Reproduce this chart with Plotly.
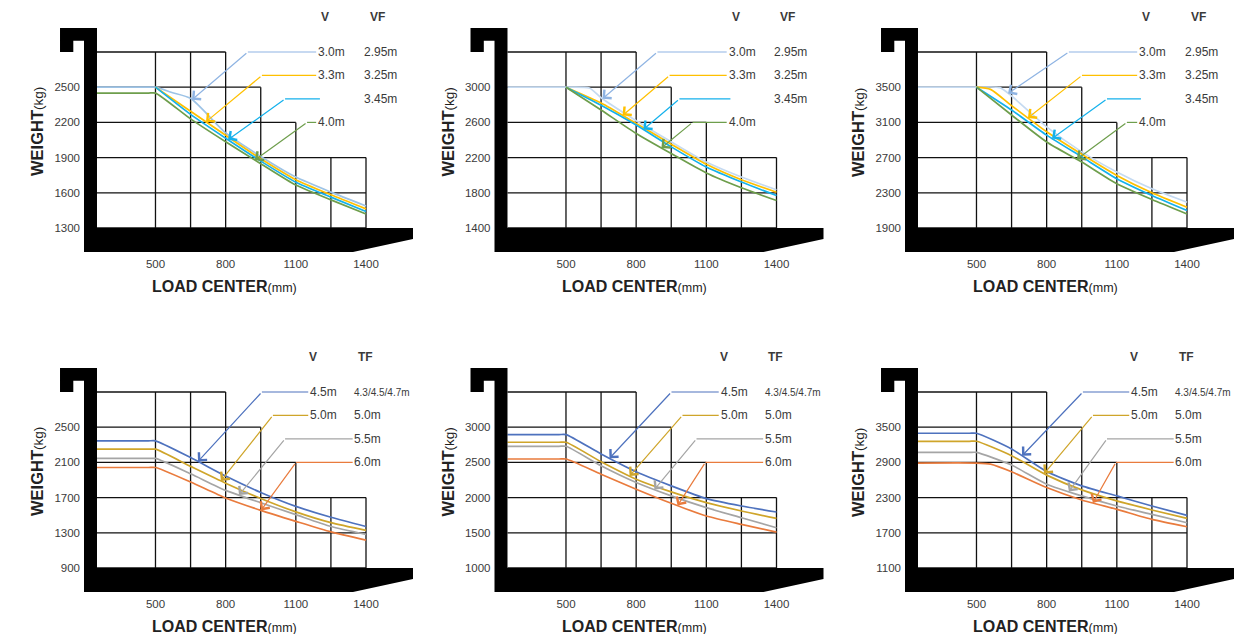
import numpy as np
import plotly.graph_objects as go

# page body has an 8px margin, so the figure is drawn 8px in from the window corner
OFF = 8
W, H = 1256 - 2 * OFF, 642 - 2 * OFF

# ---------------- data ----------------
x_tick_vals = [500, 800, 1100, 1400]
grid_cols = [500, 650, 800, 950, 1100, 1250, 1400]
grid_col_top = [5, 5, 5, 4, 3, 2, 2]      # steps each vertical grid line rises
x_start = 250

yt1 = [1300, 1600, 1900, 2200, 2500]
yt2 = [1400, 1800, 2200, 2600, 3000]
yt3 = [1900, 2300, 2700, 3100, 3500]
yt4 = [900, 1300, 1700, 2100, 2500]
yt5 = [1000, 1500, 2000, 2500, 3000]
yt6 = [1100, 1700, 2300, 2900, 3500]

# ---- top row (V / VF masts) ----
p1_v30_x = [250, 450, 500, 570, 650, 800, 950, 1100, 1250, 1400]
p1_v30_y = [2500, 2500, 2500, 2455, 2405, 2110, 1910, 1734, 1606, 1488]
p1_v33_x = [500, 650, 800, 950, 1100, 1250, 1400]
p1_v33_y = [2500, 2295, 2090, 1890, 1712, 1583, 1463]
p1_vf345_x = [500, 650, 800, 950, 1100, 1250, 1400]
p1_vf345_y = [2500, 2268, 2065, 1870, 1690, 1563, 1440]
p1_v40_x = [250, 470, 500, 650, 800, 950, 1100, 1250, 1400]
p1_v40_y = [2450, 2450, 2450, 2230, 2035, 1848, 1666, 1540, 1420]

p2_v30_x = [250, 450, 500, 600, 650, 800, 950, 1100, 1250, 1400]
p2_v30_y = [3000, 3000, 3000, 2990, 2880, 2619, 2379, 2150, 1979, 1834]
p2_v33_x = [500, 650, 800, 950, 1100, 1250, 1400]
p2_v33_y = [3000, 2820, 2589, 2352, 2124, 1948, 1807]
p2_vf345_x = [500, 650, 800, 950, 1100, 1250, 1400]
p2_vf345_y = [3000, 2795, 2570, 2322, 2093, 1922, 1769]
p2_v40_x = [500, 650, 800, 950, 1100, 1250, 1400]
p2_v40_y = [3000, 2741, 2474, 2246, 2025, 1857, 1712]

p3_v30_x = [250, 450, 500, 600, 650, 800, 950, 1100, 1250, 1400]
p3_v30_y = [3500, 3500, 3500, 3495, 3400, 3050, 2765, 2536, 2345, 2193]
p3_v33_x = [500, 560, 650, 800, 950, 1100, 1250, 1400]
p3_v33_y = [3500, 3475, 3290, 2993, 2738, 2498, 2300, 2136]
p3_vf345_x = [500, 650, 800, 950, 1100, 1250, 1400]
p3_vf345_y = [3500, 3241, 2955, 2708, 2460, 2269, 2098]
p3_v40_x = [500, 650, 800, 950, 1100, 1250, 1400]
p3_v40_y = [3500, 3184, 2878, 2650, 2403, 2224, 2060]

# ---- bottom row (V / TF masts) ----
bx = [250, 470, 500, 650, 800, 950, 1100, 1250, 1400]
p4_v45_y = [2345, 2345, 2345, 2155, 1945, 1758, 1600, 1477, 1372]
p4_v50_y = [2250, 2250, 2250, 2055, 1864, 1690, 1538, 1415, 1327]
p4_v55_y = [2145, 2145, 2145, 1970, 1782, 1641, 1506, 1372, 1283]
p4_v60_y = [2042, 2042, 2042, 1877, 1696, 1555, 1430, 1310, 1216]

p5_v45_y = [2895, 2895, 2895, 2619, 2367, 2167, 1986, 1881, 1795]
p5_v50_y = [2786, 2786, 2786, 2510, 2262, 2081, 1929, 1810, 1705]
p5_v55_y = [2729, 2729, 2729, 2452, 2214, 2024, 1857, 1714, 1571]
p5_v60_y = [2548, 2548, 2548, 2333, 2119, 1919, 1738, 1619, 1510]

p6_v45_y = [3397, 3397, 3397, 3129, 2745, 2500, 2329, 2157, 1997]
p6_v50_y = [3260, 3260, 3260, 3014, 2683, 2431, 2243, 2089, 1946]
p6_v55_y = [3071, 3071, 3071, 2854, 2529, 2329, 2157, 2014, 1871]
p6_v60_x = [250, 500, 560, 650, 800, 950, 1100, 1250, 1400]
p6_v60_y = [2889, 2889, 2870, 2740, 2471, 2260, 2100, 1929, 1803]

top_v_labels = ["3.0m", "3.3m", "", "4.0m"]
top_f_labels = ["2.95m", "3.25m", "3.45m", ""]
bot_v_labels = ["4.5m", "5.0m", "", ""]
bot_f_labels = ["4.3/4.5/4.7m", "5.0m", "5.5m", "6.0m"]

# ---------------- styling / layout ----------------
TOP_COLORS = ["#8FB4E3", "#FFC000", "#14B1EC", "#6E9E4C"]
BOT_COLORS = ["#4E72BE", "#CFA52A", "#A5A5A5", "#E97B3D"]
TXT = "#3a3a3a"
FONT = "Liberation Sans, Arial, sans-serif"

panels = [
    dict(yt=yt1, series=[(p1_v30_x, p1_v30_y), (p1_v33_x, p1_v33_y), (p1_vf345_x, p1_vf345_y), (p1_v40_x, p1_v40_y)],
         colors=["#9DC3E6", "#FFC000", "#14B1EC", "#6E9E4C"],
         bends=[895, 955, 1054, 1148], tips=[656, 716, 810, 925]),
    dict(yt=yt2, series=[(p2_v30_x, p2_v30_y), (p2_v33_x, p2_v33_y), (p2_vf345_x, p2_vf345_y), (p2_v40_x, p2_v40_y)],
         colors=["#C5DAF1", "#FFC000", "#14B1EC", "#6E9E4C"],
         bends=[891, 943, 985, 1041], tips=[656, 742, 831, 908]),
    dict(yt=yt3, series=[(p3_v30_x, p3_v30_y), (p3_v33_x, p3_v33_y), (p3_vf345_x, p3_vf345_y), (p3_v40_x, p3_v40_y)],
         colors=["#C5DAF1", "#FFC000", "#14B1EC", "#6E9E4C"],
         bends=[895, 951, 1058, 1143], tips=[635, 720, 823, 929]),
    dict(yt=yt4, series=[(bx, p4_v45_y), (bx, p4_v50_y), (bx, p4_v55_y), (bx, p4_v60_y)],
         colors=BOT_COLORS, bends=[955, 1002, 1054, 1101], tips=[682, 780, 857, 951]),
    dict(yt=yt5, series=[(bx, p5_v45_y), (bx, p5_v50_y), (bx, p5_v55_y), (bx, p5_v60_y)],
         colors=BOT_COLORS, bends=[951, 998, 1058, 1096], tips=[686, 772, 878, 977]),
    dict(yt=yt6, series=[(bx, p6_v45_y), (bx, p6_v50_y), (bx, p6_v55_y), (p6_v60_x, p6_v60_y)],
         colors=BOT_COLORS, bends=[955, 998, 1058, 1096], tips=[695, 789, 895, 998]),
]

# pixel geometry of one panel (window pixels)
PANEL_W, PANEL_H = 329, 224
COL_DX, ROW_DY = 410.5, 340
ORIGIN = (84, 28)
STEP_PX = 35.2
BAR_PX = 13            # x_start sits 13 px right of domain left
MM_PER_PX = (1400 - 250) / 269.0
LOW_PAD = 24 / STEP_PX
ROW_LEVELS = [5, 5 - 2 / 3, 5 - 4 / 3, 3]


def px_x(px):
    return (px - OFF) / W


def px_y(py):
    return 1 - (py - OFF) / H


fig = go.Figure()
layout_upd = {}
shapes = []
annotations = []

frame_px = [(-24, 0), (13, 0), (13, 200), (329, 200), (329, 211), (269, 224),
            (0, 224), (0, 12.7), (-10.7, 12.7), (-10.7, 24), (-24, 24)]

for i, P in enumerate(panels):
    row, col = divmod(i, 3)
    n = i + 1
    xa = "x" if n == 1 else f"x{n}"
    ya = "y" if n == 1 else f"y{n}"
    x0p = ORIGIN[0] + col * COL_DX
    y0p = ORIGIN[1] + row * ROW_DY
    yt = P["yt"]
    step = yt[1] - yt[0]
    levels = [yt[0] + k * step for k in range(6)]
    xr = [x_start - BAR_PX * MM_PER_PX, x_start + (PANEL_W - BAR_PX) * MM_PER_PX]
    yr = [yt[0] - LOW_PAD * step, levels[5] + LOW_PAD * step]

    ax_key = "xaxis" if n == 1 else f"xaxis{n}"
    ay_key = "yaxis" if n == 1 else f"yaxis{n}"
    layout_upd[ax_key] = dict(domain=[px_x(x0p), px_x(x0p + PANEL_W)], range=xr, anchor=ya,
                              showgrid=False, zeroline=False, showline=False, ticks="",
                              tickvals=x_tick_vals, ticktext=[str(v) for v in x_tick_vals],
                              ticklabelstandoff=3,
                              tickfont=dict(family=FONT, size=11.5, color=TXT), fixedrange=True)
    layout_upd[ay_key] = dict(domain=[px_y(y0p + PANEL_H), px_y(y0p)], range=yr, anchor=xa,
                              showgrid=False, zeroline=False, showline=False, ticks="",
                              tickvals=yt, ticktext=[str(v) for v in yt],
                              ticklabelstandoff=3,
                              tickfont=dict(family=FONT, size=11.5, color=TXT), fixedrange=True)

    # staircase grid
    gx, gy = [], []
    for k in range(6):
        reach = max(c for c, t in zip(grid_cols, grid_col_top) if t >= k)
        gx += [x_start, reach, None]
        gy += [levels[k], levels[k], None]
    for c, t in zip(grid_cols, grid_col_top):
        gx += [c, c, None]
        gy += [levels[0], levels[t], None]
    fig.add_trace(go.Scatter(x=gx, y=gy, mode="lines", line=dict(color="#111", width=1.3),
                             xaxis=xa, yaxis=ya, hoverinfo="skip", showlegend=False))

    # curves
    for (sx, sy), c in zip(P["series"], P["colors"]):
        fig.add_trace(go.Scatter(x=sx, y=sy, mode="lines",
                                 line=dict(color=c, width=1.7, shape="spline", smoothing=0.6),
                                 xaxis=xa, yaxis=ya, showlegend=False))

    # frame (forklift fork silhouette)
    path = "M" + " L".join(f"{px / PANEL_W:.4f},{1 - py / PANEL_H:.4f}" for px, py in frame_px) + " Z"
    shapes.append(dict(type="path", path=path, xref=f"{xa} domain", yref=f"{ya} domain",
                       fillcolor="black", line=dict(width=0)))

    top = row == 0
    v_labels = top_v_labels if top else bot_v_labels
    f_labels = top_f_labels if top else bot_f_labels
    lead_colors = TOP_COLORS if top else BOT_COLORS
    col1_x = 1195 if top else 1161
    col2_x = 1391 if top else 1349
    hdr = [("V", 325), ("VF", 377)] if top else [("V", 313), ("TF", 365)]
    for txt, hx in hdr:
        annotations.append(dict(x=px_x(hx + col * COL_DX), y=px_y(16.5 + row * ROW_DY),
                                xref="paper", yref="paper", text=f"<b>{txt}</b>",
                                showarrow=False, xanchor="center", yanchor="middle",
                                font=dict(family=FONT, size=12, color=TXT)))
    for r in range(4):
        yk = yt[0] + ROW_LEVELS[r] * step
        if v_labels[r]:
            annotations.append(dict(x=col1_x, y=yk, xref=xa, yref=ya, text=v_labels[r], showarrow=False,
                                    xanchor="left", yanchor="middle", xshift=-2,
                                    font=dict(family=FONT, size=12, color=TXT)))
            end_x = col1_x - 8
        else:
            end_x = (col1_x + 8) if top else col2_x - 6
        if f_labels[r]:
            small = len(f_labels[r]) > 6
            annotations.append(dict(x=col2_x, y=yk, xref=xa, yref=ya, text=f_labels[r], showarrow=False,
                                    xanchor="left", yanchor="middle", xshift=-2,
                                    font=dict(family=FONT, size=10 if small else 12, color=TXT)))
        sx, sy = P["series"][r]
        bend = P["bends"][r]
        tip = P["tips"][r]
        tip_y = float(np.interp(tip, sx, sy))
        shapes.append(dict(type="line", xref=xa, yref=ya, x0=bend, x1=end_x, y0=yk, y1=yk,
                           line=dict(color=lead_colors[r], width=1.2)))
        annotations.append(dict(x=tip, y=tip_y, ax=bend, ay=yk, xref=xa, yref=ya,
                                axref=xa, ayref=ya, text="", showarrow=True, arrowhead=4,
                                arrowsize=1.8, arrowwidth=1.2, arrowcolor=lead_colors[r], standoff=0))

    # axis titles
    annotations.append(dict(x=px_x(37 + col * COL_DX), y=px_y(132 + row * ROW_DY), xref="paper", yref="paper",
                            text="<b>WEIGHT</b><span style='font-size:13.5px'>(kg)</span>", textangle=-90,
                            showarrow=False, xanchor="center", yanchor="middle",
                            font=dict(family=FONT, size=16.5, color="#222")))
    annotations.append(dict(x=px_x(224 + col * COL_DX), y=px_y(286 + row * ROW_DY), xref="paper", yref="paper",
                            text="<b>LOAD CENTER</b><span style='font-size:12.5px'>(mm)</span>",
                            showarrow=False, xanchor="center", yanchor="middle",
                            font=dict(family=FONT, size=16, color="#222")))

fig.update_layout(width=W, height=H, margin=dict(l=0, r=0, t=0, b=0),
                  paper_bgcolor="white", plot_bgcolor="rgba(0,0,0,0)",
                  shapes=shapes, annotations=annotations, showlegend=False, **layout_upd)

fig.write_html("out.html")
